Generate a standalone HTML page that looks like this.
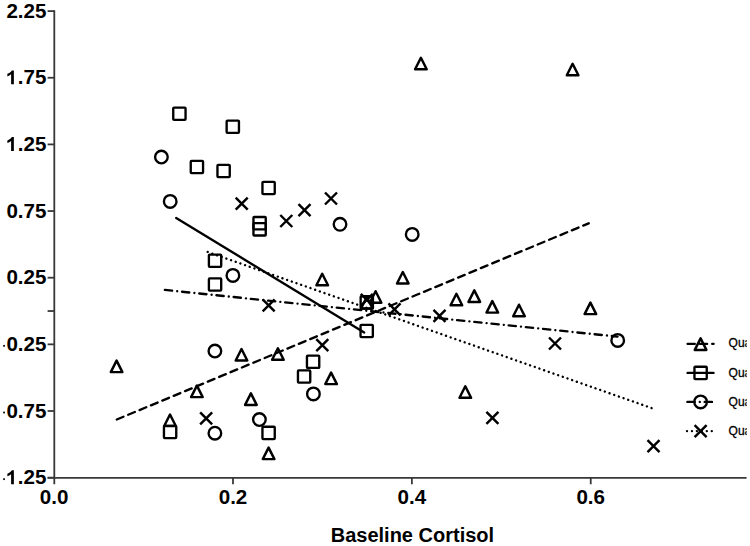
<!DOCTYPE html>
<html><head><meta charset="utf-8"><style>
html,body{margin:0;padding:0;background:#fff;width:750px;height:546px;overflow:hidden}
svg{display:block}
</style></head><body>
<svg width="750" height="546" viewBox="0 0 750 546">
<rect width="750" height="546" fill="#fff"/>
<g stroke="#383838" stroke-width="1.8" fill="none">
<path d="M54.3,10.3V484.3"/>
<path d="M47.6,477.9H746.6"/>
<path d="M47.6,11.10H54.3"/>
<path d="M47.6,77.75H54.3"/>
<path d="M47.6,144.40H54.3"/>
<path d="M47.6,211.05H54.3"/>
<path d="M47.6,277.70H54.3"/>
<path d="M47.6,311.03H54.3"/>
<path d="M47.6,344.35H54.3"/>
<path d="M47.6,411.00H54.3"/>
<path d="M47.6,477.65H54.3"/>
<path d="M233.01,477.9V484.3"/>
<path d="M411.87,477.9V484.3"/>
<path d="M590.73,477.9V484.3"/>
</g>
<g font-family="Liberation Sans, sans-serif" font-weight="bold" font-size="20.6" fill="#000">
<text x="6.41" y="17.70">2</text><text x="17.86" y="17.70">.</text><text x="23.59" y="17.70">2</text><text x="35.04" y="17.70">5</text>
<path d="M13.86,84.35V70.40H11.91C11.01,72.05 9.31,73.05 7.36,73.85V76.40C8.71,75.85 10.01,75.25 11.11,74.35V84.35Z"/><text x="17.86" y="84.35">.</text><text x="23.59" y="84.35">7</text><text x="35.04" y="84.35">5</text>
<path d="M13.86,151.00V137.05H11.91C11.01,138.70 9.31,139.70 7.36,140.50V143.05C8.71,142.50 10.01,141.90 11.11,141.00V151.00Z"/><text x="17.86" y="151.00">.</text><text x="23.59" y="151.00">2</text><text x="35.04" y="151.00">5</text>
<text x="6.41" y="217.65">0</text><text x="17.86" y="217.65">.</text><text x="23.59" y="217.65">7</text><text x="35.04" y="217.65">5</text>
<text x="6.41" y="284.30">0</text><text x="17.86" y="284.30">.</text><text x="23.59" y="284.30">2</text><text x="35.04" y="284.30">5</text>
<text x="6.41" y="350.95">0</text><text x="17.86" y="350.95">.</text><text x="23.59" y="350.95">2</text><text x="35.04" y="350.95">5</text>
<rect x="3.2" y="344.95" width="1.7" height="1.8"/>
<text x="6.41" y="417.60">0</text><text x="17.86" y="417.60">.</text><text x="23.59" y="417.60">7</text><text x="35.04" y="417.60">5</text>
<rect x="3.2" y="411.60" width="1.7" height="1.8"/>
<path d="M13.86,484.25V470.30H11.91C11.01,471.95 9.31,472.95 7.36,473.75V476.30C8.71,475.75 10.01,475.15 11.11,474.25V484.25Z"/><text x="17.86" y="484.25">.</text><text x="23.59" y="484.25">2</text><text x="35.04" y="484.25">5</text>
<rect x="3.2" y="478.25" width="1.7" height="1.8"/>
<text x="39.83" y="503.70">0</text><text x="51.29" y="503.70">.</text><text x="57.01" y="503.70">0</text>
<text x="218.69" y="503.70">0</text><text x="230.15" y="503.70">.</text><text x="235.87" y="503.70">2</text>
<text x="397.55" y="503.70">0</text><text x="409.01" y="503.70">.</text><text x="414.73" y="503.70">4</text>
<text x="576.41" y="503.70">0</text><text x="587.87" y="503.70">.</text><text x="593.59" y="503.70">6</text>
<text x="412.4" y="541.6" text-anchor="middle" font-size="20">Baseline Cortisol</text>
</g>
<g stroke="#000" stroke-width="2.35" fill="none" stroke-linecap="round">
<path d="M116.8,419.5L588.7,223.3" stroke-dasharray="7.2 5.12"/>
<path d="M176.2,218.0L364.2,332.4"/>
<path d="M164.86,289.95L617.5,336.6" stroke-dasharray="7.3 5.1 0.01 4.87"/>
<path d="M207.67,251.97L652.2,408.25" stroke-dasharray="0.01 4.943" stroke-width="2.4"/>
</g>
<g stroke="#000" stroke-width="2.35" fill="none" stroke-linejoin="round">
<path stroke-width="2.45" d="M420.90,57.80L426.70,69.30L415.10,69.30Z"/>
<path stroke-width="2.45" d="M572.60,63.80L578.40,75.30L566.80,75.30Z"/>
<path stroke-width="2.45" d="M116.60,360.60L122.40,372.10L110.80,372.10Z"/>
<path stroke-width="2.45" d="M375.60,291.20L381.40,302.70L369.80,302.70Z"/>
<path stroke-width="2.45" d="M366.80,296.95L372.60,308.45L361.00,308.45Z"/>
<path stroke-width="2.45" d="M322.20,273.80L328.00,285.30L316.40,285.30Z"/>
<path stroke-width="2.45" d="M402.80,272.00L408.60,283.50L397.00,283.50Z"/>
<path stroke-width="2.45" d="M456.40,293.80L462.20,305.30L450.60,305.30Z"/>
<path stroke-width="2.45" d="M474.30,290.40L480.10,301.90L468.50,301.90Z"/>
<path stroke-width="2.45" d="M492.30,301.10L498.10,312.60L486.50,312.60Z"/>
<path stroke-width="2.45" d="M519.00,304.70L524.80,316.20L513.20,316.20Z"/>
<path stroke-width="2.45" d="M590.40,302.60L596.20,314.10L584.60,314.10Z"/>
<path stroke-width="2.45" d="M241.50,349.00L247.30,360.50L235.70,360.50Z"/>
<path stroke-width="2.45" d="M277.90,348.30L283.70,359.80L272.10,359.80Z"/>
<path stroke-width="2.45" d="M196.90,385.60L202.70,397.10L191.10,397.10Z"/>
<path stroke-width="2.45" d="M250.90,393.40L256.70,404.90L245.10,404.90Z"/>
<path stroke-width="2.45" d="M170.00,414.50L175.80,426.00L164.20,426.00Z"/>
<path stroke-width="2.45" d="M268.60,447.60L274.40,459.10L262.80,459.10Z"/>
<path stroke-width="2.45" d="M331.10,372.60L336.90,384.10L325.30,384.10Z"/>
<path stroke-width="2.45" d="M465.30,386.30L471.10,397.80L459.50,397.80Z"/>
<rect x="173.25" y="107.55" width="12.30" height="12.30" rx="0.8"/>
<rect x="226.65" y="120.55" width="12.30" height="12.30" rx="0.8"/>
<rect x="190.75" y="160.85" width="12.30" height="12.30" rx="0.8"/>
<rect x="217.45" y="164.85" width="12.30" height="12.30" rx="0.8"/>
<rect x="262.45" y="181.85" width="12.30" height="12.30" rx="0.8"/>
<rect x="253.45" y="217.00" width="12.30" height="12.30" rx="0.8"/>
<rect x="253.45" y="223.15" width="12.30" height="12.30" rx="0.8"/>
<rect x="208.90" y="254.55" width="12.30" height="12.30" rx="0.8"/>
<rect x="208.90" y="278.35" width="12.30" height="12.30" rx="0.8"/>
<rect x="360.65" y="296.25" width="12.30" height="12.30" rx="0.8"/>
<rect x="360.55" y="324.85" width="12.30" height="12.30" rx="0.8"/>
<rect x="306.95" y="355.65" width="12.30" height="12.30" rx="0.8"/>
<rect x="297.95" y="370.35" width="12.30" height="12.30" rx="0.8"/>
<rect x="163.95" y="425.85" width="12.30" height="12.30" rx="0.8"/>
<rect x="262.45" y="426.75" width="12.30" height="12.30" rx="0.8"/>
<circle cx="161.40" cy="157.00" r="6.3"/>
<circle cx="170.20" cy="201.40" r="6.3"/>
<circle cx="340.00" cy="224.30" r="6.3"/>
<circle cx="412.20" cy="234.40" r="6.3"/>
<circle cx="232.90" cy="275.40" r="6.3"/>
<circle cx="214.90" cy="351.00" r="6.3"/>
<circle cx="259.40" cy="419.50" r="6.3"/>
<circle cx="214.90" cy="433.20" r="6.3"/>
<circle cx="313.40" cy="393.90" r="6.3"/>
<circle cx="617.70" cy="340.40" r="6.3"/>
</g>
<g stroke="#000" stroke-width="2.45" fill="none">
<path d="M235.70,197.70L247.70,209.70M247.70,197.70L235.70,209.70"/>
<path d="M280.30,215.00L292.30,227.00M292.30,215.00L280.30,227.00"/>
<path d="M298.50,204.20L310.50,216.20M310.50,204.20L298.50,216.20"/>
<path d="M325.00,192.50L337.00,204.50M337.00,192.50L325.00,204.50"/>
<path d="M262.65,299.30L274.65,311.30M274.65,299.30L262.65,311.30"/>
<path d="M316.30,339.20L328.30,351.20M328.30,339.20L316.30,351.20"/>
<path d="M360.80,293.90L372.80,305.90M372.80,293.90L360.80,305.90"/>
<path d="M388.50,303.30L400.50,315.30M400.50,303.30L388.50,315.30"/>
<path d="M433.50,309.80L445.50,321.80M445.50,309.80L433.50,321.80"/>
<path d="M549.00,337.50L561.00,349.50M561.00,337.50L549.00,349.50"/>
<path d="M486.40,411.80L498.40,423.80M498.40,411.80L486.40,423.80"/>
<path d="M200.15,412.40L212.15,424.40M212.15,412.40L200.15,424.40"/>
<path d="M647.50,440.20L659.50,452.20M659.50,440.20L647.50,452.20"/>
</g>
<g stroke="#000" stroke-width="2.35" fill="none" stroke-linejoin="round">
<g stroke-linecap="round">
<path d="M687.6,343.8H694.8M699.9,343.8H707.1M712.2,343.8H713.6"/>
<path d="M687.6,372.9H713.5"/>
<path d="M687.4,401.9H713.5" stroke-dasharray="7.3 5.1 0.01 4.87"/>
<path d="M687.0,431.1H713.5" stroke-dasharray="0.01 4.943" stroke-width="2.4"/>
</g>
<path stroke-width="2.45" d="M700.60,338.40L706.40,349.90L694.80,349.90Z"/>
<rect x="694.45" y="366.75" width="12.30" height="12.30" rx="0.8"/>
<circle cx="700.60" cy="401.90" r="6.3"/>
</g>
<g stroke="#000" stroke-width="2.45" fill="none"><path d="M694.60,425.10L706.60,437.10M706.60,425.10L694.60,437.10"/></g>
<svg x="0" y="0" width="746.7" height="546" overflow="hidden"><g font-family="Liberation Sans, sans-serif" font-size="12" fill="#000" stroke="#000" stroke-width="0.3">
<text x="728.6" y="347.40">Quartile</text>
<text x="728.6" y="376.50">Quartile</text>
<text x="728.6" y="405.50">Quartile</text>
<text x="728.6" y="434.70">Quartile</text>
</g></svg>
</svg>
</body></html>
